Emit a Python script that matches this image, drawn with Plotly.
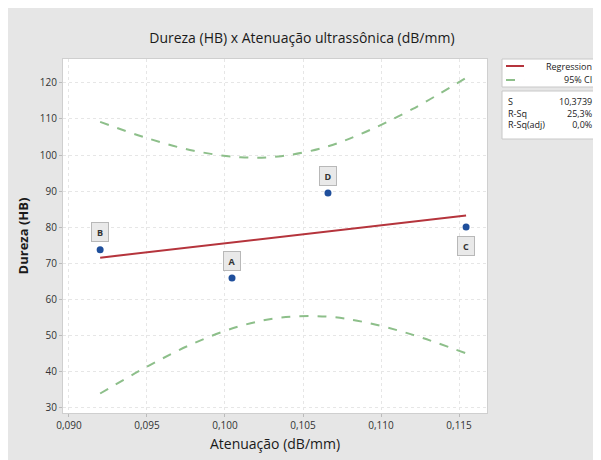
import plotly.graph_objects as go

# Data points (labelled samples)
labels = ["A", "B", "C", "D"]
atten = [0.10045, 0.0920, 0.11545, 0.1066]
dureza = [66.0, 73.8, 80.1, 89.5]

# Fitted regression line (end points)
reg_x = [0.0920, 0.11545]
reg_y = [71.6, 83.3]

# 95% CI band values
ci_x = [0.0920, 0.0950, 0.0980, 0.1010, 0.1036, 0.1065, 0.1090, 0.1120, 0.11545]
ci_upper = [109.2, 104.7, 101.2, 99.4, 99.7, 102.3, 106.4, 112.7, 121.4]
ci_lower = [34.0, 41.4, 47.9, 52.7, 55.0, 55.3, 53.7, 50.3, 45.1]

# Summary statistics
stat_names = ["S", "R-Sq", "R-Sq(adj)"]
stat_values = ["10,3739", "25,3%", "0,0%"]

# legend entries
legend_names = ["Regression", "95% CI"]

# label offsets (pixels) for the sample letters
label_shift = {"A": 17, "B": 18, "C": -19, "D": 17}

FONT = "Open Sans"
RED = "#b5343c"
GREEN = "#8dbf8a"
fig = go.Figure()

fig.add_trace(go.Scatter(x=reg_x, y=reg_y, mode="lines", name=legend_names[0], showlegend=False,
                         line=dict(color=RED, width=2)))
fig.add_trace(go.Scatter(x=ci_x, y=ci_upper, mode="lines", name=legend_names[1], showlegend=False,
                         line=dict(color=GREEN, width=2, dash="dash", shape="spline")))
fig.add_trace(go.Scatter(x=ci_x, y=ci_lower, mode="lines", name=legend_names[1], showlegend=False,
                         line=dict(color=GREEN, width=2, dash="dash", shape="spline")))
fig.add_trace(go.Scatter(x=atten, y=dureza, mode="markers", showlegend=False,
                         marker=dict(color="#1f4f9c", size=7)))

for lab, xv, yv in zip(labels, atten, dureza):
    fig.add_annotation(x=xv, y=yv, text="<b>" + lab + "</b>", showarrow=False,
                       yshift=label_shift[lab], font=dict(size=9, color="#333333", family=FONT),
                       bgcolor="#e9e9e9", bordercolor="#b8b8b8", borderwidth=1, borderpad=2,
                       width=12, height=14)

# legend box (drawn)
fig.add_shape(type="rect", xref="paper", yref="paper", x0=1.0354, x1=1.2594, y0=0.9209, y1=1.0,
              fillcolor="white", line=dict(color="#c8c8c8", width=1))
fig.add_shape(type="line", xref="paper", yref="paper", x0=1.0448, x1=1.0873, y0=0.9802, y1=0.9802,
              line=dict(color=RED, width=2))
fig.add_shape(type="line", xref="paper", yref="paper", x0=1.0448, x1=1.0873, y0=0.9407, y1=0.9407,
              line=dict(color=GREEN, width=2, dash="dash"))
for name, yy in zip(legend_names, [0.9802, 0.9407]):
    fig.add_annotation(xref="paper", yref="paper", x=1.2524, y=yy, xanchor="right", yanchor="middle",
                       text=name, showarrow=False, font=dict(size=9, color="#222222", family=FONT))

# stats box
fig.add_shape(type="rect", xref="paper", yref="paper", x0=1.0354, x1=1.2594, y0=0.774, y1=0.9096,
              fillcolor="white", line=dict(color="#c8c8c8", width=1))
fig.add_annotation(xref="paper", yref="paper", x=1.045, y=0.903, xanchor="left", yanchor="top",
                   text="<br>".join(stat_names), showarrow=False, align="left",
                   font=dict(size=9, color="#222222", family=FONT))
fig.add_annotation(xref="paper", yref="paper", x=1.252, y=0.903, xanchor="right", yanchor="top",
                   text="<br>".join(stat_values), showarrow=False, align="right",
                   font=dict(size=9, color="#222222", family=FONT))

fig.update_layout(
    width=601, height=460,
    margin=dict(l=55, r=122, t=51, b=55, autoexpand=False),
    paper_bgcolor="#e6e6e6", plot_bgcolor="white",
    separators=",.",
    font=dict(family=FONT, color="#333333"),
    title=dict(text="Dureza (HB) x Atenuação ultrassônica (dB/mm)", x=0.489, xref="container",
               xanchor="center", y=0.935, yanchor="middle",
               font=dict(size=14, color="#1a1a1a", family=FONT)),
    showlegend=False,
)
fig.update_xaxes(range=[0.08962, 0.11679], tickvals=[0.090, 0.095, 0.100, 0.105, 0.110, 0.115],
                 tickformat=".3f", showgrid=True, gridcolor="#e6e6e6", griddash="dot",
                 zeroline=False, showline=True, linecolor="#cfcfcf", mirror=True, automargin=False,
                 ticks="outside", ticklen=3, tickcolor="#bbbbbb", tickfont=dict(size=10, color="#333333"),
                 title=dict(text="Atenuação (dB/mm)", font=dict(size=14, color="#1a1a1a"), standoff=8))
fig.update_yaxes(range=[28.6, 126.6], tickvals=[30, 40, 50, 60, 70, 80, 90, 100, 110, 120],
                 showgrid=True, gridcolor="#e6e6e6", griddash="dot",
                 zeroline=False, showline=True, linecolor="#cfcfcf", mirror=True, automargin=False,
                 ticks="outside", ticklen=3, tickcolor="#bbbbbb", tickfont=dict(size=10, color="#333333"),
                 title=dict(text="<b>Dureza (HB)</b>", font=dict(size=13, color="#1a1a1a"), standoff=8))

fig.write_html("out.html")
